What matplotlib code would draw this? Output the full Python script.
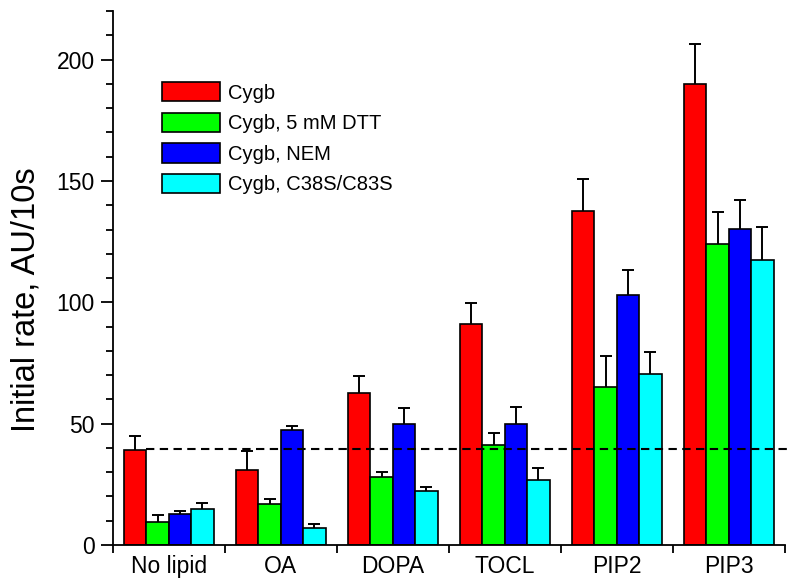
import matplotlib
matplotlib.use("Agg")
import matplotlib.pyplot as plt
import numpy as np
from matplotlib.ticker import MultipleLocator, FixedLocator

plt.rcParams['font.family'] = ['Liberation Sans', 'DejaVu Sans']

groups = ["No lipid", "OA", "DOPA", "TOCL", "PIP2", "PIP3"]
series = ["Cygb", "Cygb, 5 mM DTT", "Cygb, NEM", "Cygb, C38S/C83S"]
colors = ["#ff0000", "#00ff00", "#0000ff", "#00ffff"]

# mean values, one list per series
cygb = [39.0, 30.7, 62.7, 91.1, 137.6, 189.9]
cygb_dtt = [9.3, 16.8, 28.1, 41.1, 65.0, 124.0]
cygb_nem = [12.6, 47.2, 49.7, 50.0, 103.1, 130.1]
cygb_mut = [14.8, 6.8, 22.3, 26.7, 70.5, 117.5]

# upper error bars
err_cygb = [5.9, 7.9, 7.1, 8.6, 13.3, 16.6]
err_dtt = [2.9, 2.2, 1.8, 5.2, 12.8, 13.2]
err_nem = [1.4, 2.0, 6.7, 7.0, 10.3, 11.9]
err_mut = [2.7, 1.8, 1.8, 4.9, 8.9, 13.4]

baseline = 39.4  # dashed reference level

values = [cygb, cygb_dtt, cygb_nem, cygb_mut]
errors = [err_cygb, err_dtt, err_nem, err_mut]

fig = plt.figure(figsize=(8, 5.85), dpi=100)
ax = fig.add_axes([0.141, 0.0684, 0.84, 0.9126])

x = np.arange(len(groups))
w = 0.2
for i in range(4):
    xi = x + (i - 1.5) * w
    ax.bar(xi, values[i], w, color=colors[i], edgecolor="black", linewidth=1.2,
           label=series[i], zorder=2)
    eb = ax.errorbar(xi, values[i], yerr=[np.zeros(len(groups)), errors[i]], fmt="none",
                     ecolor="black", elinewidth=1.4, capsize=4.5, capthick=1.4, zorder=3)
    eb[1][0].set_visible(False)  # only the upper cap

# dashed line starting at right edge of the first red bar
ax.plot([x[0] - 1.5 * w + w / 2, 5.53], [baseline, baseline], color="black",
        lw=1.5, ls=(0, (4, 2.6)), zorder=4, clip_on=False)

ax.set_xlim(-0.5, 5.5)
ax.set_ylim(0, 220)
ax.spines["top"].set_visible(False)
ax.spines["right"].set_visible(False)
ax.spines["left"].set_linewidth(1.3)
ax.spines["bottom"].set_linewidth(1.3)

ax.xaxis.set_major_locator(FixedLocator(np.arange(-0.5, 6.0, 1.0)))
ax.xaxis.set_minor_locator(FixedLocator(x))
ax.set_xticklabels([], minor=False)
ax.set_xticklabels(groups, minor=True, fontsize=16.5)
ax.tick_params(axis="x", which="major", length=6, width=1.3, direction="out")
ax.tick_params(axis="x", which="minor", length=0, pad=7)

ax.yaxis.set_major_locator(MultipleLocator(50))
ax.yaxis.set_minor_locator(MultipleLocator(10))
ax.tick_params(axis="y", which="major", length=9, width=1.3, labelsize=16.5, pad=4)
ax.tick_params(axis="y", which="minor", length=5, width=1.3)

ax.set_ylabel("Initial rate, AU/10s", fontsize=23.5)
ax.yaxis.set_label_coords(-0.106, 0.459)

ax.legend(loc="upper left", bbox_to_anchor=(162 / 800, 1 - 82 / 585),
          bbox_transform=fig.transFigure, frameon=False, fontsize=14.5,
          handlelength=2.9, handleheight=1.1, handletextpad=0.4,
          labelspacing=0.5, borderpad=0, borderaxespad=0)

fig.savefig("out.png", dpi=100)
